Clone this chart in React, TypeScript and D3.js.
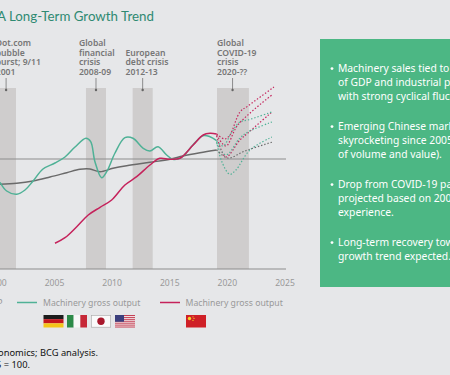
import React from "react";
import * as d3 from "d3";

// ---- data (index, 2005 = 100)
const xTicks = [2000, 2005, 2010, 2015, 2020, 2025];
const crisisBands = [
  [2000.0, 2001.66],
  [2007.73, 2009.47],
  [2011.78, 2013.52],
  [2019.1, 2021.87],
];
const crisisLabels = [
  { lines: ["Dot.com", "bubble", "burst; 9/11", "2001"], year: 2000.8, labelYear: 1999.9 },
  { lines: ["Global", "financial", "crisis", "2008-09"], year: 2008.6, labelYear: 2007.12 },
  { lines: ["European", "debt crisis", "2012-13"], year: 2012.65, labelYear: 2011.16 },
  { lines: ["Global", "COVID-19", "crisis", "2020-??"], year: 2020.45, labelYear: 2019.1 },
];

const greenYears = [2000.27, 2000.85, 2001.72, 2002.44, 2003.14, 2004.0, 2005.04, 2005.91, 2006.78, 2007.73, 2008.14, 2008.51, 2009.09, 2009.53, 2010.25, 2011.11, 2011.81, 2012.7, 2013.28, 2013.98, 2014.73, 2015.28, 2016.03, 2017.01, 2017.88, 2018.49, 2019.07];
const greenValues = [88.35, 84, 82.35, 84.5, 89, 95, 98, 101, 106, 110.35, 108.65, 98.65, 90.65, 93.65, 103, 110.65, 110.35, 105.35, 104, 106.15, 102, 99.85, 100.85, 107, 111.65, 111.15, 109.15];

const grayYears = [2000.27, 2001.72, 2003.14, 2004.61, 2006.06, 2007.21, 2008.08, 2008.95, 2010.07, 2011.26, 2013.28, 2015.02, 2016.14, 2017.62, 2019.07];
const grayValues = [87.35, 87.85, 89, 91, 93.15, 94.85, 95, 93.65, 95.35, 96.65, 98.35, 99.85, 101.5, 103.15, 104.5];

const crimsonYears = [2005.04, 2005.91, 2006.93, 2007.93, 2008.95, 2009.96, 2011.11, 2012.13, 2013.28, 2014.14, 2015.02, 2015.88, 2017.03, 2017.9, 2018.49, 2019.07];
const crimsonValues = [57.85, 60.65, 66.15, 72, 75.85, 79.5, 87, 91.15, 97, 100.35, 99.85, 100.35, 107, 112, 112.85, 112.5];

const crimsonFcA = { years: [2019.07, 2019.79, 2020.22, 2021.09, 2021.78, 2024.04], values: [112.5, 110, 112, 123.5, 126.5, 136] };
const crimsonFcB = { years: [2019.07, 2019.87, 2020.91, 2023.86], values: [112, 106.5, 117, 132] };
const crimsonFcC = { years: [2019.07, 2019.87, 2021.09, 2021.78, 2023.86], values: [111.5, 101, 109.5, 113, 123.5] };
const greenFcA = { years: [2019.07, 2019.62, 2020.39, 2021.09, 2021.78, 2023.86], values: [109, 106.5, 113.5, 118.5, 119.5, 123.5] };
const greenFcB = { years: [2019.07, 2019.87, 2021.09, 2021.78, 2023.86], values: [108, 102, 110.5, 113.5, 118.5] };
const greenFcC = { years: [2019.07, 2019.53, 2020.22, 2020.74, 2021.96, 2023.86], values: [108.5, 98.5, 92.35, 94.5, 104.5, 111] };
const grayFc = { years: [2019.07, 2020.05, 2021.52, 2023.86], values: [104.5, 100.5, 104, 108.4] };

const panelBullets = [
  ["Machinery sales tied to growth", "of GDP and industrial production,", "with strong cyclical fluctuations."],
  ["Emerging Chinese market", "skyrocketing since 2005 (in terms", "of volume and value)."],
  ["Drop from COVID-19 pandemic", "projected based on 2008-09", "experience."],
  ["Long-term recovery toward", "growth trend expected."],
];
const panelBaselines = [72, 130, 188, 246];

// ---- style
const GREEN = "#4fb196";
const CRIMSON = "#c5225b";
const GRAY = "#6a6a6a";
const FONT = "'Noto Sans', 'Open Sans', sans-serif";

const x = d3.scaleLinear().domain([2005, 2025]).range([54.5, 285]);
const y = d3.scaleLinear().domain([45, 135.5]).range([269, 88]);

const path = (ys: number[], vs: number[]) =>
  d3
    .line<number>()
    .x((d) => x(d))
    .y((_, i) => y(vs[i]))
    .curve(d3.curveCatmullRom.alpha(0.5))(ys) as string;

const dashed = [
  [crimsonFcA, CRIMSON],
  [crimsonFcB, CRIMSON],
  [crimsonFcC, CRIMSON],
  [greenFcA, GREEN],
  [greenFcB, GREEN],
  [greenFcC, GREEN],
  [grayFc, GRAY],
] as const;

function Flag({ x0, kind }: { x0: number; kind: string }) {
  const w = 20;
  const h = 12.5;
  const t = 315;
  if (kind === "de")
    return (
      <g>
        <rect x={x0} y={t} width={w} height={h / 3} fill="#1c1c1c" />
        <rect x={x0} y={t + h / 3} width={w} height={h / 3} fill="#c4161c" />
        <rect x={x0} y={t + (2 * h) / 3} width={w} height={h / 3} fill="#f5c518" />
      </g>
    );
  if (kind === "it")
    return (
      <g>
        <rect x={x0} y={t} width={w / 3} height={h} fill="#2c8a48" />
        <rect x={x0 + w / 3} y={t} width={w / 3} height={h} fill="#f7f7f7" />
        <rect x={x0 + (2 * w) / 3} y={t} width={w / 3} height={h} fill="#c62837" />
      </g>
    );
  if (kind === "jp")
    return (
      <g>
        <rect x={x0 + 0.3} y={t + 0.3} width={w - 0.6} height={h - 0.6} fill="#fafafa" stroke="#a5a5a5" strokeWidth={0.6} />
        <circle cx={x0 + w / 2} cy={t + h / 2} r={3.7} fill="#a8182c" />
      </g>
    );
  if (kind === "us")
    return (
      <g>
        <rect x={x0} y={t} width={w} height={h} fill="#f4eeee" />
        {d3.range(0, 7).map((i) => (
          <rect key={i} x={x0} y={t + (i * h) / 6.5} width={w} height={h / 13} fill="#c2394f" />
        ))}
        <rect x={x0} y={t} width={w * 0.45} height={h * 0.54} fill="#3b3f7d" />
      </g>
    );
  return (
    <g>
      <rect x={x0} y={t} width={w} height={h} fill="#cf2027" />
      <circle cx={x0 + 3.5} cy={t + 3.5} r={1.7} fill="#f5d327" />
      <circle cx={x0 + 7} cy={t + 1.8} r={0.6} fill="#f5d327" />
      <circle cx={x0 + 8} cy={t + 3.4} r={0.6} fill="#f5d327" />
      <circle cx={x0 + 7} cy={t + 5.4} r={0.6} fill="#f5d327" />
    </g>
  );
}

export default function App() {
  return (
    <svg
      width={450}
      height={375}
      viewBox="0 0 450 375"
      style={{ position: "absolute", left: 0, top: 0, display: "block" }}
      fontFamily={FONT}
    >
      <rect x={0} y={0} width={450} height={375} fill="#e6e7e9" />

      <text x={-3} y={21} fontSize={13.3} fill="#2f8a72" fontFamily="Lato, 'Noto Sans', sans-serif">
        A Long-Term Growth Trend
      </text>

      {crisisBands.map(([a, b], i) => (
        <rect key={i} x={x(a)} y={88} width={x(b) - x(a)} height={181} fill="#cfcdcd" />
      ))}

      {crisisLabels.map((c, i) => (
        <g key={i}>
          {c.lines.map((l, j) => (
            <text
              key={j}
              x={x(c.labelYear)}
              y={75 - (c.lines.length - 1 - j) * 9.7}
              fontSize={8.6}
              fontWeight={600}
              fill="#767676"
            >
              {l}
            </text>
          ))}
          <line x1={x(c.year)} x2={x(c.year)} y1={78} y2={90} stroke="#666" strokeWidth={0.7} />
          <circle cx={x(c.year)} cy={90} r={1.2} fill="#666" />
        </g>
      ))}

      <line x1={-3} x2={286} y1={y(100)} y2={y(100)} stroke="#8d8d8d" strokeWidth={1} />
      <line x1={-3} x2={286} y1={269} y2={269} stroke="#8d8d8d" strokeWidth={1} />

      {xTicks.map((t) => (
        <text key={t} x={x(t)} y={286} textAnchor="middle" fontSize={8.6} fill="#999">
          {t}
        </text>
      ))}

      {dashed.map(([s, c], i) => (
        <path
          key={i}
          d={path(s.years as number[], s.values as number[])}
          fill="none"
          stroke={c}
          strokeWidth={1.2}
          strokeDasharray="1.4 1.9"
        />
      ))}

      <path d={path(grayYears, grayValues)} fill="none" stroke={GRAY} strokeWidth={1.4} />
      <path d={path(greenYears, greenValues)} fill="none" stroke={GREEN} strokeWidth={1.5} />
      <path d={path(crimsonYears, crimsonValues)} fill="none" stroke={CRIMSON} strokeWidth={1.5} />

      {/* legend */}
      <text x={2.5} y={306} textAnchor="end" fontSize={8.7} fill="#999">
        Global GDP
      </text>
      <line x1={17} x2={37} y1={302.5} y2={302.5} stroke={GREEN} strokeWidth={1.5} />
      <text x={43} y={306} fontSize={8.7} fill="#999">
        Machinery gross output
      </text>
      <line x1={160} x2={180} y1={302.5} y2={302.5} stroke={CRIMSON} strokeWidth={1.5} />
      <text x={185.5} y={306} fontSize={8.7} fill="#999">
        Machinery gross output
      </text>
      <Flag x0={43.5} kind="de" />
      <Flag x0={67} kind="it" />
      <Flag x0={91} kind="jp" />
      <Flag x0={115} kind="us" />
      <Flag x0={186} kind="cn" />

      {/* source */}
      <text x={98} y={356} textAnchor="end" fontSize={9.3} fill="#111">
        Sources: Oxford Economics; BCG analysis.
      </text>
      <text x={30} y={368} textAnchor="end" fontSize={9.3} fill="#111">
        Note: 2005 = 100.
      </text>

      {/* panel */}
      <rect x={320} y={39} width={130} height={248} fill="#4cb784" />
      {panelBullets.map((lines, i) => (
        <g key={i}>
          <circle cx={332} cy={panelBaselines[i] - 3.4} r={1.4} fill="#fff" />
          {lines.map((l, j) => (
            <text key={j} x={338} y={panelBaselines[i] + j * 13.9} fontSize={10.3} fill="#fff">
              {l}
            </text>
          ))}
        </g>
      ))}
    </svg>
  );
}
